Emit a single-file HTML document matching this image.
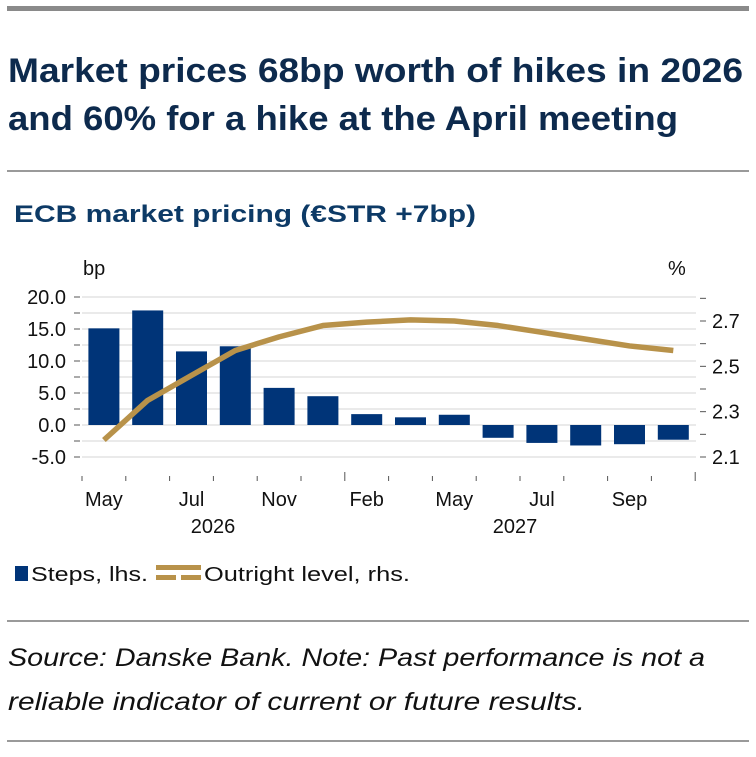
<!DOCTYPE html>
<html><head><meta charset="utf-8"><style>
body{margin:0;background:#fff;width:756px;height:757px;overflow:hidden;font-family:"Liberation Sans",sans-serif;}
svg{position:absolute;left:0;top:0}
</style></head><body>
<svg width="756" height="757">
<rect x="7" y="6" width="742" height="5" fill="#8a8a8a"/>
<text x="8" y="82" font-size="34" font-weight="bold" fill="#0d2a4d" textLength="735" lengthAdjust="spacingAndGlyphs">Market prices 68bp worth of hikes in 2026</text>
<text x="8" y="130" font-size="34" font-weight="bold" fill="#0d2a4d" textLength="670" lengthAdjust="spacingAndGlyphs">and 60% for a hike at the April meeting</text>
<rect x="7" y="170" width="742" height="2" fill="#9a9a9a"/>
<text x="14" y="222" font-size="24" font-weight="bold" fill="#0d3a66" textLength="462" lengthAdjust="spacingAndGlyphs">ECB market pricing (€STR +7bp)</text>
<text x="83" y="275" font-size="20" fill="#111">bp</text>
<text x="668" y="275" font-size="20" fill="#111">%</text>
<g id="plot"></g>
<g>
<rect x="15" y="566" width="13" height="15" fill="#003478"/>
<text x="31" y="581" font-size="20" fill="#111" textLength="117" lengthAdjust="spacingAndGlyphs">Steps, lhs.</text>
<rect x="156" y="565" width="45" height="5" fill="#b8924a"/>
<rect x="156" y="575" width="20" height="5" fill="#b8924a"/>
<rect x="181" y="575" width="20" height="5" fill="#b8924a"/>
<text x="204" y="581" font-size="20" fill="#111" textLength="206" lengthAdjust="spacingAndGlyphs">Outright level, rhs.</text>
</g>
<rect x="7" y="620" width="742" height="2" fill="#9a9a9a"/>
<text x="8" y="666" font-size="25" font-style="italic" fill="#111" textLength="697" lengthAdjust="spacingAndGlyphs">Source: Danske Bank. Note: Past performance is not a</text>
<text x="8" y="710" font-size="25" font-style="italic" fill="#111" textLength="577" lengthAdjust="spacingAndGlyphs">reliable indicator of current or future results.</text>
<rect x="7" y="740" width="742" height="2" fill="#9a9a9a"/>
</svg>
<script>
const steps=[15.1,17.9,11.5,12.3,5.8,4.5,1.7,1.2,1.6,-2.0,-2.8,-3.2,-3.0,-2.3];
const outright=[2.175,2.35,2.46,2.57,2.63,2.68,2.695,2.705,2.70,2.68,2.65,2.62,2.59,2.57];
const leftTicks=[20,15,10,5,0,-5];
const rightTicks=[2.7,2.5,2.3,2.1];
const monthLabels=["May","Jul","Nov","Feb","May","Jul","Sep"];
const monthIdx=[0,2,4,6,8,10,12];
const yearLabels=["2026","2027"];
const NS="http://www.w3.org/2000/svg";
const g=document.getElementById('plot');
const x0=82,bw=43.8;
const yL=v=>425-v*6.4;
const yR=v=>457-(v-2.1)*(136/0.6);
const xc=i=>x0+bw*(i+0.5);
function mk(t,a){const e=document.createElementNS(NS,t);for(const k in a)e.setAttribute(k,a[k]);g.appendChild(e);return e;}
for(let v=-5;v<=20;v+=2.5){
 const l=mk('line',{x1:82,x2:696,y1:yL(v),y2:yL(v),stroke:'#e3e3e3','stroke-width':1.5});
 
 
 const t=mk('line',{x1:74,x2:80,y1:yL(v),y2:yL(v),stroke:'#555','stroke-width':1});
 
 
}
leftTicks.forEach(v=>{const t=mk('text',{x:66,y:yL(v)+7,'font-size':20,'text-anchor':'end',fill:'#111'});t.textContent=v.toFixed(1);
 
 });
for(let k=0;k<=7;k++){const v=2.1+k*0.1;
 const t=mk('line',{x1:700,x2:706,y1:yR(v),y2:yR(v),stroke:'#555','stroke-width':1});
 
 }
rightTicks.forEach(v=>{const t=mk('text',{x:712,y:yR(v)+7,'font-size':20,fill:'#111'});t.textContent=v.toFixed(1);
 
 });
steps.forEach((v,i)=>{const y=Math.min(yL(v),yL(0));const r=mk('rect',{x:xc(i)-15.5,y:y,width:31,height:Math.abs(yL(v)-yL(0)),fill:'#003478'});
 
 });
const pl=mk('polyline',{points:outright.map((v,i)=>xc(i)+','+yR(v)).join(' '),fill:'none',stroke:'#b8924a','stroke-width':5.5,'stroke-linejoin':'round'});


for(let i=0;i<=14;i++){const big=(i==6||i==14);
 const t=mk('line',{x1:x0+bw*i,x2:x0+bw*i,y1:big?472:476,y2:481,stroke:'#555','stroke-width':1});
 
 }
monthLabels.forEach((m,j)=>{const t=mk('text',{x:xc(monthIdx[j]),y:506,'font-size':20,'text-anchor':'middle',fill:'#111'});t.textContent=m;
 
 });
[213,515].forEach((x,j)=>{const t=mk('text',{x:x,y:533,'font-size':20,'text-anchor':'middle',fill:'#111'});t.textContent=yearLabels[j];
 
 });
</script>
</body></html>
